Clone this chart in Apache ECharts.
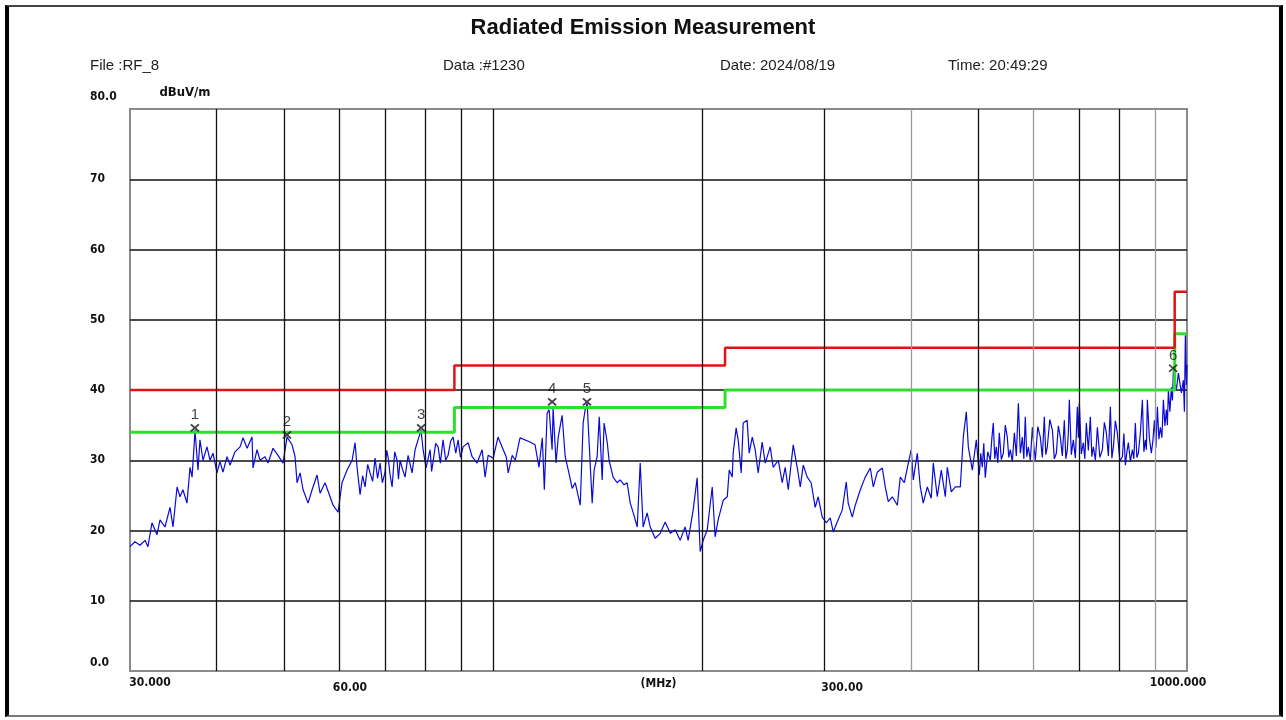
<!DOCTYPE html>
<html>
<head>
<meta charset="utf-8">
<title>Radiated Emission Measurement</title>
<script src="https://cdn.jsdelivr.net/npm/echarts@6/dist/echarts.min.js"></script>
<style>
  html, body { margin: 0; padding: 0; background: #fff; }
  #chart { position: absolute; left: 0; top: 0; width: 1286px; height: 720px; }
  #frame {
    position: absolute; left: 5px; top: 5px; width: 1278px; height: 712px;
    box-sizing: border-box; pointer-events: none;
    border-left: 4px solid #000; border-right: 4px solid #000;
    border-top: 2px solid #444; border-bottom: 2px solid #777;
  }
</style>
</head>
<body>
<div id="chart"></div>
<div id="frame"></div>
<script>
// header texts
const title = 'Radiated Emission Measurement';
const headerTexts = ['File :RF_8', 'Data :#1230', 'Date: 2024/08/19', 'Time: 20:49:29'];

// axes (MHz, dBuV/m)
const freqMin = 30;
const freqMax = 1000;
const xTickValues = [30, 60, 300, 1000];
const xTickLabels = ['30.000', '60.00', '300.00', '1000.000'];
const gridFreqBlack = [40, 50, 60, 70, 80, 90, 100, 200, 300, 500, 700, 800];
const gridFreqGray = [400, 600, 900];

// FCC class B limit and -6 dB margin, [MHz, dBuV/m]
const limitLine = [[30, 40], [88, 40], [88, 43.5], [216, 43.5], [216, 46], [960, 46], [960, 54], [1000, 54]];
const marginLine = [[30, 34], [88, 34], [88, 37.5], [216, 37.5], [216, 40], [960, 40], [960, 48], [1000, 48]];

// marked peaks
const markerLabels = ['1', '2', '3', '4', '5', '6'];
const markerPoints = [[37.2, 34.6], [50.5, 33.6], [78.8, 34.6], [121.7, 38.3], [136.6, 38.3], [955, 43.1]];

const trace = [
  [30.00, 17.7], [30.50, 18.4], [31.01, 17.9], [31.53, 18.6], [31.84, 17.7], [32.27, 21.1], [32.81, 19.4], [33.14, 21.5],
  [33.69, 20.5], [34.26, 23.3], [34.60, 20.5], [35.07, 26.2], [35.41, 24.8], [35.76, 25.8], [36.24, 23.9], [36.61, 29.0],
  [36.86, 27.6], [37.10, 31.9], [37.22, 34.3], [37.59, 28.6], [37.84, 32.9], [38.22, 30.0], [38.73, 31.9], [39.12, 30.0],
  [39.51, 31.0], [40.04, 28.2], [40.44, 29.8], [40.84, 28.3], [41.39, 30.5], [41.80, 29.3], [42.50, 31.2], [43.22, 31.9],
  [43.65, 33.2], [44.24, 31.7], [44.97, 33.3], [45.12, 28.9], [45.72, 31.5], [46.18, 30.0], [46.95, 30.5], [47.42, 29.6],
  [48.22, 31.7], [49.02, 30.7], [49.84, 29.6], [50.51, 33.3], [51.36, 32.2], [51.87, 30.5], [52.22, 26.8], [52.74, 28.2],
  [53.27, 25.8], [54.16, 23.9], [54.89, 25.8], [55.80, 27.9], [56.36, 25.3], [57.30, 26.8], [58.26, 24.8], [58.84, 23.6],
  [59.83, 22.6], [60.62, 26.8], [61.64, 28.6], [62.68, 30.0], [63.30, 32.5], [63.72, 29.0], [64.36, 25.1], [64.90, 27.8],
  [65.43, 26.2], [66.00, 29.4], [66.53, 28.2], [67.10, 27.0], [67.64, 30.3], [68.20, 27.4], [68.77, 29.6], [69.30, 26.8],
  [69.92, 28.3], [70.30, 31.4], [70.62, 30.5], [71.10, 27.9], [71.57, 26.2], [72.20, 31.2], [72.76, 30.0], [73.10, 27.3],
  [73.49, 30.0], [74.10, 28.7], [74.72, 27.6], [75.47, 30.7], [76.48, 28.2], [77.24, 31.5], [78.01, 32.9], [78.79, 34.3],
  [79.32, 31.5], [80.11, 28.9], [81.19, 31.5], [81.60, 28.4], [82.00, 29.8], [82.70, 32.4], [83.37, 31.9], [84.00, 29.6],
  [84.76, 32.9], [85.50, 30.0], [86.18, 30.7], [86.90, 32.7], [87.63, 33.3], [88.40, 31.0], [89.09, 32.9], [89.80, 30.4],
  [90.58, 31.9], [92.09, 32.5], [93.33, 30.5], [94.89, 29.6], [96.48, 31.5], [97.44, 27.6], [98.42, 30.7], [100.1, 30.3],
  [101.7, 33.3], [103.1, 31.9], [104.5, 30.5], [105.2, 28.2], [106.6, 30.7], [107.7, 30.0], [109.4, 33.2], [111.2, 32.9],
  [113.1, 32.6], [115.0, 32.2], [116.5, 29.0], [117.8, 33.2], [118.6, 25.8], [119.7, 36.7], [120.5, 37.2], [121.7, 31.5],
  [122.1, 37.4], [123.3, 29.6], [124.2, 33.3], [125.8, 36.4], [127.1, 30.5], [128.4, 28.6], [130.1, 26.0], [131.4, 26.8],
  [133.6, 23.6], [134.9, 35.3], [135.8, 37.2], [136.7, 38.1], [137.6, 32.5], [139.0, 23.9], [139.9, 28.6], [141.3, 30.5],
  [142.3, 36.2], [143.7, 27.2], [144.6, 35.3], [146.1, 32.6], [147.0, 30.0], [149.0, 27.6], [151.0, 26.8], [152.5, 27.2],
  [154.5, 26.5], [156.1, 26.8], [157.7, 23.9], [159.3, 22.5], [161.4, 20.5], [163.0, 29.6], [164.6, 20.5], [166.8, 22.5],
  [168.5, 20.5], [171.3, 18.9], [174.2, 19.6], [177.1, 21.2], [180.1, 19.6], [183.1, 20.1], [186.1, 18.6], [189.2, 20.5],
  [191.1, 18.6], [194.3, 22.9], [196.9, 27.5], [198.9, 17.0], [200.9, 18.6], [203.6, 20.1], [207.0, 26.2], [209.0, 19.1],
  [211.1, 21.5],
  [214.7, 24.3], [217.6, 24.8], [219.0, 28.6], [221.2, 27.6], [221.9, 31.0], [224.1, 34.6], [225.6, 32.9], [227.9, 28.2],
  [229.4, 35.3], [232.4, 35.7], [234.0, 31.0], [236.4, 33.3], [238.7, 31.5], [241.1, 28.2], [244.3, 32.6], [246.8, 29.6],
  [250.9, 31.9], [253.4, 29.0], [257.7, 30.0], [261.1, 26.8], [263.7, 29.0], [266.4, 25.8], [270.8, 32.2], [274.4, 29.0],
  [277.2, 26.2], [280.0, 29.3], [283.7, 27.6], [287.4, 26.8], [291.3, 23.3], [294.2, 24.8], [298.2, 21.9], [302.2, 21.1],
  [306.2, 21.8], [309.3, 19.8], [313.4, 21.2], [318.6, 22.9], [322.9, 26.9], [325.0, 23.9], [329.4, 21.9], [332.7, 23.6],
  [338.3, 25.8], [343.9, 27.6], [349.7, 28.9], [353.2, 26.2], [357.9, 28.3], [363.9, 28.9], [367.5, 26.2], [371.2, 24.1],
  [376.2, 24.8], [382.5, 23.6], [386.3, 27.6], [391.5, 26.8], [396.7, 29.6], [400.6, 31.5], [403.3, 27.2], [408.7, 31.0],
  [412.8, 26.2], [416.9, 23.9], [422.5, 26.2], [428.1, 24.6], [431.0, 29.6], [436.7, 24.8], [442.6, 28.6], [448.5, 24.8],
  [451.5, 29.0], [457.5, 25.5], [463.6, 26.2], [471.4, 26.2], [476.1, 33.3], [480.9, 36.9], [484.1, 31.9], [490.6, 28.6],
  [497.1, 32.9], [502.1, 27.9],
  [504.5, 31.0], [507.1, 29.0], [509.6, 32.4], [512.1, 27.5], [516.4, 31.2], [520.7, 30.0], [523.3, 33.0], [525.9, 35.3],
  [528.5, 30.2], [531.2, 31.9], [533.8, 29.6], [536.5, 33.9], [540.1, 30.1], [543.7, 31.0], [547.3, 35.0], [550.9, 33.3],
  [553.7, 30.4], [556.5, 31.5], [560.2, 29.8], [564.0, 33.9], [567.7, 30.6], [571.5, 38.1], [575.3, 31.0], [579.1, 33.3],
  [582.0, 30.2], [584.8, 36.2], [587.7, 30.5], [590.7, 31.9], [594.7, 30.0], [598.7, 34.7], [601.6, 32.0], [604.6, 30.0],
  [609.6, 34.8], [614.7, 33.3], [618.8, 30.4], [622.9, 36.2], [626.0, 30.8], [629.1, 31.9], [634.4, 35.8], [639.8, 34.3],
  [644.0, 30.2], [648.3, 31.0], [652.6, 34.9], [656.9, 33.3], [661.3, 30.6], [665.7, 35.7], [669.0, 30.2], [672.3, 31.5],
  [674.5, 33.8], [676.8, 38.6], [681.3, 30.8], [685.9, 32.9], [690.5, 30.3], [695.1, 37.6], [697.4, 33.2], [699.7, 38.1],
  [704.3, 30.9], [709.0, 32.5], [712.5, 30.2], [716.1, 35.3], [720.9, 31.4], [725.7, 36.2], [729.3, 30.5], [733.0, 31.9],
  [737.9, 30.0], [742.8, 34.7], [749.0, 30.4], [755.2, 31.5], [760.2, 35.4], [765.3, 33.9], [770.4, 30.6], [775.5, 37.6],
  [779.4, 30.3], [783.3, 31.9], [788.5, 35.6], [793.7, 33.9], [800.4, 29.9], [807.1, 30.5], [811.1, 33.8], [815.1, 29.3],
  [819.2, 31.2], [823.3, 32.5], [828.8, 29.8], [834.3, 31.5], [838.4, 30.2], [842.5, 35.3], [846.7, 30.4], [851.0, 31.0],
  [856.7, 33.9], [862.4, 38.6], [866.7, 31.2], [871.0, 32.9], [873.9, 31.5], [876.8, 38.6], [882.6, 33.2], [888.5, 31.0],
  [893.0, 32.8], [897.5, 35.7], [901.9, 31.8], [906.4, 37.6], [911.0, 33.0], [915.5, 34.7], [920.1, 33.2], [924.7, 38.6],
  [929.3, 34.9], [933.9, 37.2], [937.0, 35.0], [940.1, 40.0], [944.8, 36.9], [949.5, 40.4], [952.7, 38.5], [955.9, 42.8],
  [965.4, 40.0], [971.9, 42.4], [981.5, 39.6], [988.1, 41.4], [991.4, 36.9], [994.6, 47.8], [998.0, 40.7], [1000, 43.6]
];

const labelFont = 'DejaVu Sans Condensed, DejaVu Sans, sans-serif';
const textFont = 'Liberation Sans, Arial, sans-serif';

const chart = echarts.init(document.getElementById('chart'), null, { renderer: 'canvas' });

const headerX = [90, 443, 720, 948];

chart.setOption({
  animation: false,
  backgroundColor: '#fff',
  title: [
    { text: title, left: 'center', top: 17, padding: 0,
      textStyle: { fontFamily: textFont, fontSize: 22, fontWeight: 'bold', color: '#111' } }
  ].concat(headerTexts.map((t, i) => ({
    text: t, left: headerX[i], top: 58, padding: 0,
    textStyle: { fontFamily: textFont, fontSize: 15, fontWeight: 'normal', color: '#222' }
  }))),
  grid: {
    left: 130, right: 99, top: 109, bottom: 49,
    show: true, borderColor: '#8a8a8a', borderWidth: 2, backgroundColor: '#fff'
  },
  xAxis: {
    type: 'log', logBase: 10, min: freqMin, max: freqMax,
    name: '(MHz)', nameLocation: 'middle', nameGap: 7, nameMoveOverlap: false,
    nameTextStyle: { fontFamily: labelFont, fontWeight: 'bold', fontSize: 12, color: '#111', verticalAlign: 'top' },
    axisLine: { show: false },
    axisTick: { show: false },
    splitLine: { show: false },
    axisLabel: {
      customValues: xTickValues,
      margin: 6,
      fontFamily: labelFont, fontWeight: 'bold', fontSize: 12, color: '#111',
      formatter: function (v) {
        const i = xTickValues.findIndex(t => Math.abs(t - v) / t < 0.01);
        if (i < 0) return '';
        return '{t' + i + '|' + xTickLabels[i] + '}';
      },
      rich: {
        t0: { fontFamily: labelFont, fontWeight: 'bold', fontSize: 12, color: '#111', padding: [0, 0, 0, 40] },
        t1: { fontFamily: labelFont, fontWeight: 'bold', fontSize: 12, color: '#111', padding: [5, 0, 0, 22] },
        t2: { fontFamily: labelFont, fontWeight: 'bold', fontSize: 12, color: '#111', padding: [5, 0, 0, 36] },
        t3: { fontFamily: labelFont, fontWeight: 'bold', fontSize: 12, color: '#111', padding: [0, 18, 0, 0] }
      }
    }
  },
  yAxis: {
    type: 'value', min: 0, max: 80, interval: 10,
    name: 'dBuV/m', nameLocation: 'end', nameGap: 10,
    nameTextStyle: { fontFamily: labelFont, fontWeight: 'bold', fontSize: 13, color: '#111', padding: [0, 0, 0, 110] },
    axisLine: { show: false },
    axisTick: { show: false },
    splitLine: { show: true, showMinLine: false, showMaxLine: false, lineStyle: { color: '#111', width: 1.6 } },
    axisLabel: {
      align: 'left', margin: 40,
      fontFamily: labelFont, fontWeight: 'bold', fontSize: 12, color: '#111',
      formatter: function (v) {
        if (v === 80) return '{top|80.0}';
        if (v === 0) return '{bot|0.0}';
        return String(v);
      },
      rich: {
        top: { fontFamily: labelFont, fontWeight: 'bold', fontSize: 12, color: '#111', padding: [0, 0, 24, 0] },
        bot: { fontFamily: labelFont, fontWeight: 'bold', fontSize: 12, color: '#111', padding: [0, 0, 16, 0] }
      }
    }
  },
  series: [
    {
      name: 'grid', type: 'line', data: [], silent: true, z: 1,
      markLine: {
        silent: true, symbol: ['none', 'none'], label: { show: false },
        data: gridFreqBlack.map(f => ({ xAxis: f, lineStyle: { color: '#111', width: 1.3, type: 'solid' } }))
          .concat(gridFreqGray.map(f => ({ xAxis: f, lineStyle: { color: '#9a9a9a', width: 1.3, type: 'solid' } })))
      }
    },
    {
      name: 'Level', type: 'line', data: trace, z: 3,
      showSymbol: false, lineStyle: { color: '#0a0ad8', width: 1.2 }
    },
    {
      name: 'Margin', type: 'line', data: marginLine, z: 4,
      showSymbol: false, lineStyle: { color: '#2ee02e', width: 3 }
    },
    {
      name: 'Limit', type: 'line', data: limitLine, z: 4,
      showSymbol: false, lineStyle: { color: '#e01414', width: 2.5 }
    },
    {
      name: 'Peaks', type: 'scatter', data: markerPoints, z: 6,
      symbol: 'path://M0,0L10,10M10,0L0,10', symbolSize: [8, 7],
      itemStyle: { color: 'rgba(0,0,0,0)', borderColor: '#111', borderWidth: 1.8 },
      label: {
        show: true, position: 'top', distance: 1,
        fontFamily: textFont, fontSize: 15, color: '#111',
        formatter: p => markerLabels[p.dataIndex]
      }
    }
  ]
});
</script>
</body>
</html>
